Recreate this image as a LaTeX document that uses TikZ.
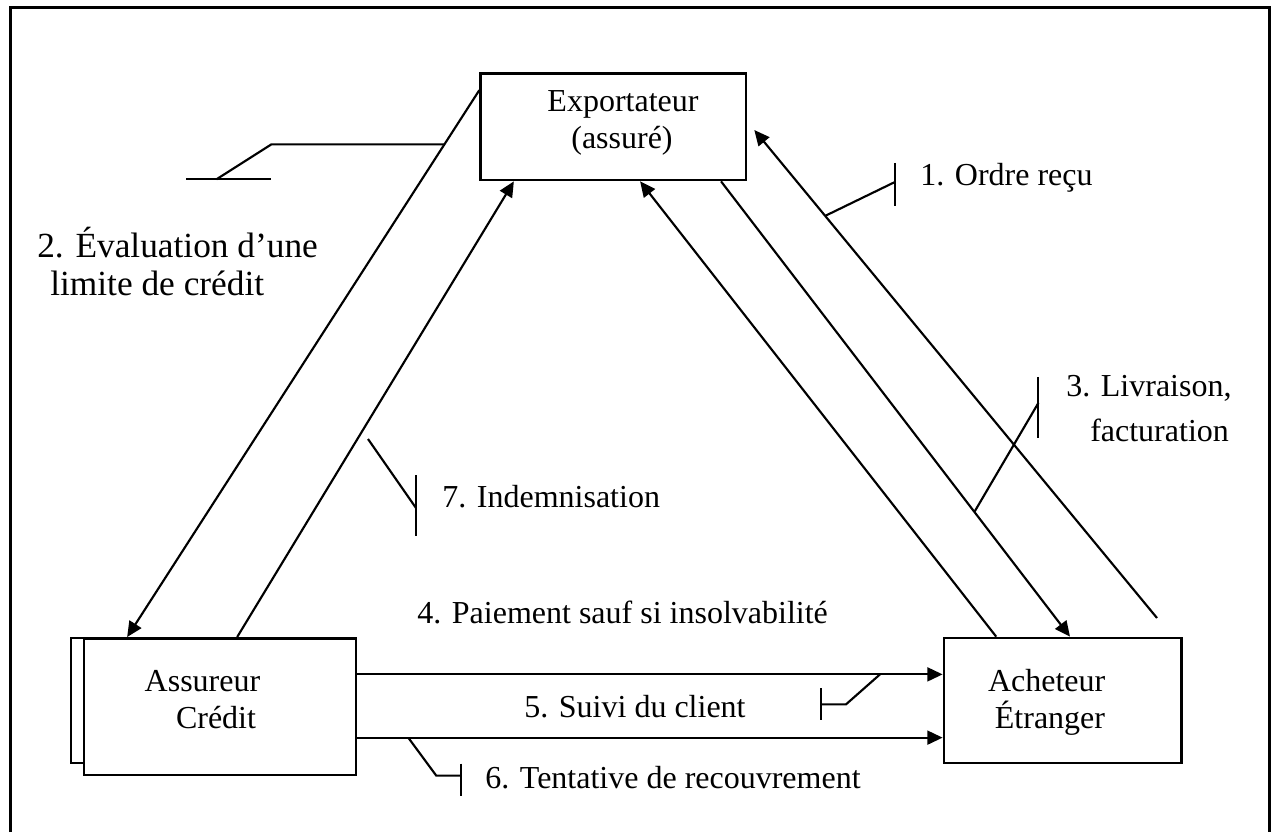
\documentclass[tikz,border=0pt]{standalone}
\usepackage{fontspec}
\setmainfont{Liberation Serif}
\usetikzlibrary{arrows.meta,calc}
\tikzset{
 box/.style={draw, line width=2pt, fill=white, inner sep=0pt},
 conn/.style={line width=1.6pt},
 arr/.style={conn, -{Triangle[length=11.5pt,width=10.5pt]}},
 lbl/.style={font=\fontsize{24pt}{29pt}\selectfont, inner sep=0pt},
 biglbl/.style={font=\fontsize{26.5pt}{31pt}\selectfont, inner sep=0pt},
 callout/.style={line width=1.6pt}
}
\begin{document}
\begin{tikzpicture}[x=0.75pt,y=-0.75pt]
\useasboundingbox (0,0) rectangle (1271,832);
\draw[line width=2.25pt] (10,832) -- (10,7.7) -- (1269.5,7.7) -- (1269.5,832);

% boxes
\node[box, minimum width=204pt, minimum height=93.75pt] (assback) at (207,700.5) {};
\node[box, minimum width=204pt, minimum height=102.5pt] (ass) at (220,706.7) {};
\node[box, minimum width=199pt, minimum height=80pt] (exp) at (613.3,126.7) {};
\node[box, minimum width=178.3pt, minimum height=93.75pt] (ach) at (1062.8,700.5) {};

% box texts
\node[lbl] (expT1) at (623,104) {Exportateur};
\node[lbl] (expT2) at (622,141) {(assuré)};
\node[lbl] (assT1) at (202.5,681) {Assureur};
\node[lbl] (assT2) at (216,718) {Crédit};
\node[lbl] (achT1) at (1046.7,681) {Acheteur};
\node[lbl] (achT2) at (1050,718) {Étranger};

% connectors
\draw[arr] ($(exp.north west)!0.166!(exp.south west)$) -- coordinate[pos=0.099] (cA) ($(ass.north west)!0.162!(ass.north east)$);
\draw[arr] ($(ass.north west)!0.5625!(ass.north east)$) -- ($(exp.south west)!0.129!(exp.south east)$);
\draw[arr] ($(ach.north west)!0.223!(ach.north east)$) -- ($(exp.south west)!0.600!(exp.south east)$);
\draw[arr] ($(exp.south west)!0.902!(exp.south east)$) -- coordinate[pos=0.726] (cD) ($(ach.north west)!0.530!(ach.north east)$);
\coordinate (e0) at (1157,618);
\draw[arr] (e0) -- coordinate[pos=0.824] (cE) ($(exp.east)+(7,3.3)$);
\coordinate (s4) at ($(ass.north east)!0.268!(ass.south east)$);
\draw[arr] (s4) -- coordinate[pos=0.893] (c4) (s4 -| ach.west);
\coordinate (s5) at ($(ass.north east)!0.722!(ass.south east)$);
\draw[arr] (s5) -- coordinate[pos=0.087] (c5) (s5 -| ach.west);

% callouts
\draw[callout] (cA) -- ++(-173,0) -- ++(-55,35) coordinate (b2);
\draw[callout] (b2) ++(-30,0) -- ++(85,0);
\draw[callout] (cE) -- ++(70,-34) coordinate (b1);
\draw[callout] (b1) ++(0,-19) -- ++(0,43);
\draw[callout] (cD) -- ++(64,-109) coordinate (b3);
\draw[callout] (b3) ++(0,-26) -- ++(0,61);
\draw[callout] (c4) -- ++(-34,30) -- ++(-25,0) coordinate (b5);
\draw[callout] (b5) ++(0,-16) -- ++(0,32);
\draw[callout] (c5) -- ++(28,38) -- ++(25,0) coordinate (b6);
\draw[callout] (b6) ++(0,-12) -- ++(0,32);
\coordinate (c7a) at (368,439);
\coordinate (c7b) at (416,508);
\draw[callout] (c7a) -- (c7b);
\draw[callout] (c7b) ++(0,-33) -- ++(0,61);

% labels
\node[biglbl, anchor=west] (l2a) at (37,243) {2. Évaluation d’une};
\node[biglbl, anchor=west] (l2b) at (50,283) {limite de crédit};
\node[lbl, anchor=west] (l1) at (920,178) {1. Ordre reçu};
\node[lbl, anchor=west] (l3a) at (1066,388) {3. Livraison,};
\node[lbl, anchor=west] (l3b) at (1090,430) {facturation};
\node[lbl, anchor=west] (l7) at (442,497) {7. Indemnisation};
\node[lbl, anchor=west] (l4) at (417,612) {4. Paiement sauf si insolvabilité};
\node[lbl, anchor=west] (l5) at (524,707) {5. Suivi du client};
\node[lbl, anchor=west] (l6) at (485,778) {6. Tentative de recouvrement};
\end{tikzpicture}
\end{document}
